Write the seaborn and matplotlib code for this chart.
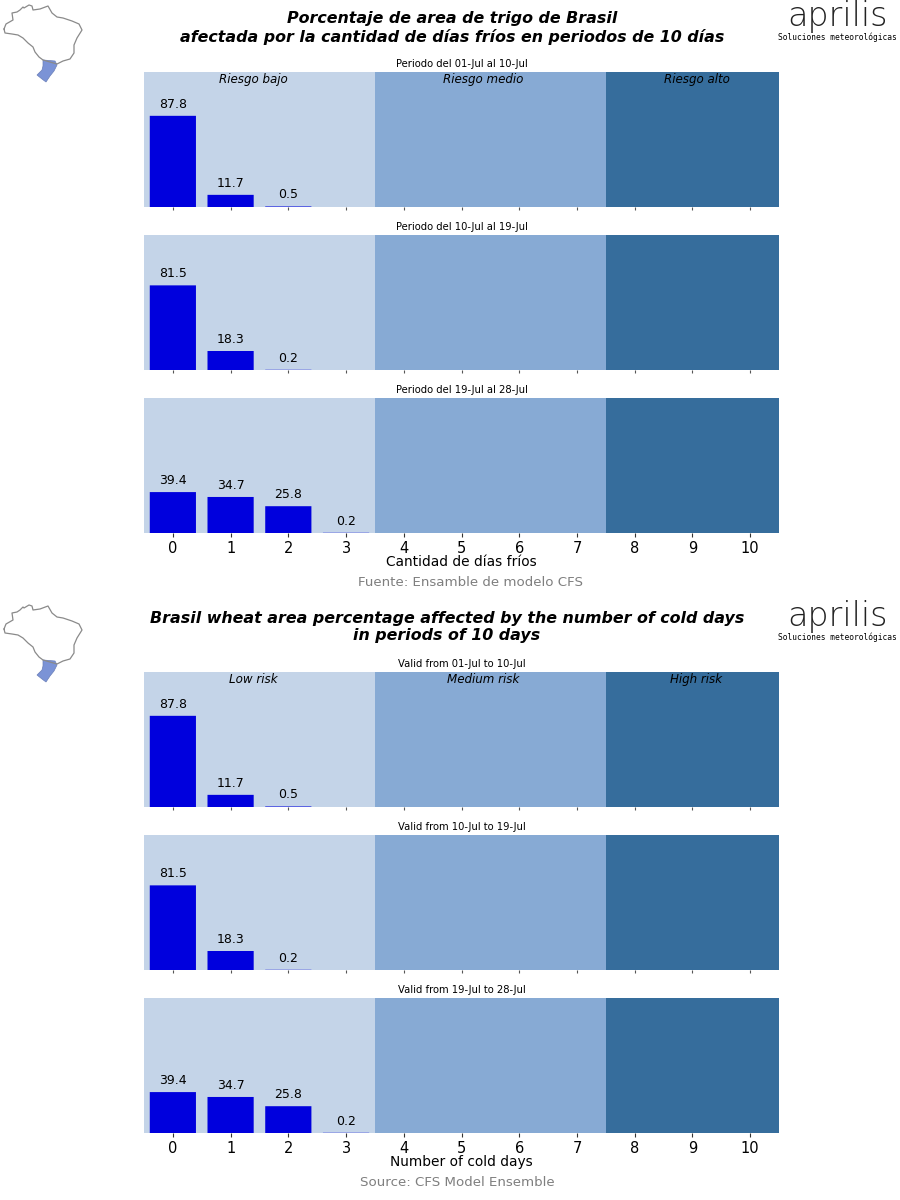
import numpy as np
import pandas as pd
import seaborn as sns
import matplotlib
matplotlib.use('Agg')
import matplotlib.pyplot as plt

cold_days = list(range(11))
period_1 = [87.8, 11.7, 0.5, 0, 0, 0, 0, 0, 0, 0, 0]
period_2 = [81.5, 18.3, 0.2, 0, 0, 0, 0, 0, 0, 0, 0]
period_3 = [39.4, 34.7, 25.8, 0.2, 0, 0, 0, 0, 0, 0, 0]

titles_es = ['Periodo del 01-Jul al 10-Jul', 'Periodo del 10-Jul al 19-Jul', 'Periodo del 19-Jul al 28-Jul']
titles_en = ['Valid from 01-Jul to 10-Jul', 'Valid from 10-Jul to 19-Jul', 'Valid from 19-Jul to 28-Jul']
risk_es = ['Riesgo bajo', 'Riesgo medio', 'Riesgo alto']
risk_en = ['Low risk', 'Medium risk', 'High risk']

# map outline, in pixels of the picture
brazil_x = [4, 6, 13, 12, 17, 20, 23, 24, 29, 32, 33, 40, 48, 52, 57, 63, 72, 79, 82, 77, 74, 74, 70, 63, 57, 43, 39, 35, 33, 28, 23, 18, 12, 5]
brazil_y = [29, 24, 20, 13, 12, 10, 7, 8, 5, 6, 10, 9, 6, 13, 17, 18, 21, 24, 30, 38, 45, 53, 59, 61, 64, 60, 57, 52, 47, 43, 38, 35, 34, 33]
south_x = [43, 55, 57, 54, 50, 46, 42, 37, 42, 43]
south_y = [60, 61, 65, 71, 76, 82, 79, 75, 70, 66]

LIGHT, MID, DARK = '#c4d4e8', '#87aad4', '#366d9c'
W, H = 900, 1200


def px_axes(fig, left, top, right, bottom):
    return fig.add_axes([left / W, 1 - bottom / H, (right - left) / W, (bottom - top) / H])


def draw_panel(fig, top, values, title, risk=None, xlabel=None):
    ax = px_axes(fig, 144, top, 779, top + 135)
    df = pd.DataFrame({'dias': cold_days, 'pct': values})
    ax.axvspan(-0.5, 3.5, color=LIGHT, lw=0, zorder=0)
    ax.axvspan(3.5, 7.5, color=MID, lw=0, zorder=0)
    ax.axvspan(7.5, 10.5, color=DARK, lw=0, zorder=0)
    sns.barplot(data=df, x='dias', y='pct', color='#0000dd', saturation=1, linewidth=0, ax=ax, zorder=2)
    for bar in ax.containers[0]:
        bar.set_snap(False)
    labels = [str(v) if v > 0 else '' for v in values]
    ax.bar_label(ax.containers[0], labels=labels, padding=3.8, fontsize=9, color='black')
    ax.set_xlim(-0.5, 10.5)
    ax.set_ylim(0, 130)
    ax.set_yticks([])
    ax.set_ylabel('')
    ax.set_title(title, fontsize=7.2, pad=3.6, color='black')
    sns.despine(ax=ax, left=True, bottom=True)
    if risk:
        for x, txt in zip([1.39, 5.37, 9.07], risk):
            ax.text(x, 123, txt, ha='center', va='center', style='italic', fontsize=8.6, color='black')
    if xlabel:
        ax.tick_params(axis='x', labelsize=10.5, length=3, width=0.8, pad=3, color='#333333', labelcolor='black')
        ax.set_xlabel(xlabel, fontsize=9.9, labelpad=-1, color='black')
    else:
        ax.tick_params(axis='x', labelbottom=False, length=2.5, width=0.8, color='#555555')
        ax.set_xlabel('')
    return ax


def draw_map(fig, offset):
    ax = fig.add_axes([0, 1 - (offset + 100) / H, 100 / W, 100 / H])
    ax.set_xlim(0, 100)
    ax.set_ylim(offset + 100, offset)
    ax.axis('off')
    ax.plot(brazil_x + brazil_x[:1], [y + offset for y in brazil_y + brazil_y[:1]], color='#8a8a8a', lw=0.9)
    ax.fill(south_x, [y + offset for y in south_y], color='#7b93d6', ec='#6a7fb8', lw=0.5)


def draw_logo(fig, offset):
    fig.text(837 / W, 1 - (offset + 26) / H, 'aprilis', family='DejaVu Sans', weight='ultralight',
             fontsize=24, ha='center', va='baseline', color='#222222')
    fig.text(837 / W, 1 - (offset + 37) / H, 'Soluciones meteorológicas', family='DejaVu Sans Mono',
             fontsize=5.65, ha='center', va='center', color='black')


sns.set_theme(style='ticks')
plt.rcParams['font.family'] = ['DejaVu Sans']

fig = plt.figure(figsize=(9, 12), dpi=100)
all_values = [period_1, period_2, period_3]

# bloque en castellano
tops_es = [72, 235, 398]
for i in range(3):
    draw_panel(fig, tops_es[i], all_values[i], titles_es[i],
               risk=risk_es if i == 0 else None,
               xlabel='Cantidad de días fríos' if i == 2 else None)
fig.text(452 / W, 1 - 28 / H, 'Porcentaje de area de trigo de Brasil\nafectada por la cantidad de días fríos en periodos de 10 días',
         ha='center', va='center', fontsize=11.4, weight='bold', style='italic', linespacing=1.2, color='black')
fig.text(471 / W, 1 - 583 / H, 'Fuente: Ensamble de modelo CFS', ha='center', va='center', fontsize=9.6, color='#7f7f7f')
draw_map(fig, 0)
draw_logo(fig, 0)

# bloque en ingles
tops_en = [672, 835, 998]
for i in range(3):
    draw_panel(fig, tops_en[i], all_values[i], titles_en[i],
               risk=risk_en if i == 0 else None,
               xlabel='Number of cold days' if i == 2 else None)
fig.text(447 / W, 1 - 627 / H, 'Brasil wheat area percentage affected by the number of cold days\nin periods of 10 days',
         ha='center', va='center', fontsize=11.4, weight='bold', style='italic', linespacing=1.2, color='black')
fig.text(457 / W, 1 - 1183 / H, 'Source: CFS Model Ensemble', ha='center', va='center', fontsize=9.6, color='#7f7f7f')
draw_map(fig, 600)
draw_logo(fig, 600)

fig.savefig('out.png', dpi=100)
